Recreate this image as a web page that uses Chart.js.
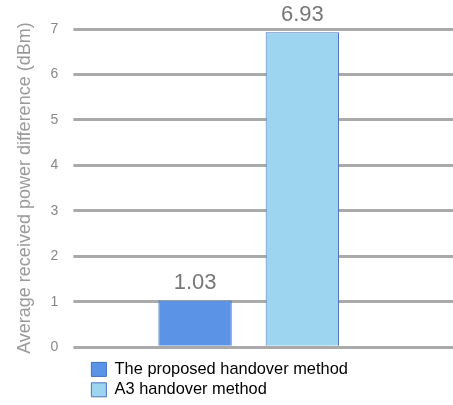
<!DOCTYPE html>
<html>
<head>
<meta charset="utf-8">
<script src="https://cdn.jsdelivr.net/npm/chart.js@4.4.1/dist/chart.umd.min.js"></script>
<style>
  html, body { margin: 0; padding: 0; background: #ffffff; }
  #wrap { width: 453px; height: 405px; }
</style>
</head>
<body>
<div id="wrap"><canvas id="chart"></canvas></div>
<script>
// Chart data
const categories = [''];
const seriesNames = ['The proposed handover method', 'A3 handover method'];
const proposedValues = [1.03];
const a3Values = [6.93];
const yTicks = [0, 1, 2, 3, 4, 5, 6, 7];

const FONT = '"Liberation Sans", Arial, sans-serif';

// Writes each bar's value above it
const valueLabels = {
  id: 'valueLabels',
  afterDatasetsDraw(chart) {
    const ctx = chart.ctx;
    ctx.save();
    ctx.font = '22px ' + FONT;
    ctx.fillStyle = '#777777';
    ctx.textAlign = 'center';
    ctx.textBaseline = 'alphabetic';
    chart.data.datasets.forEach((ds, i) => {
      chart.getDatasetMeta(i).data.forEach((bar, j) => {
        ctx.fillText(ds.data[j].toFixed(2), bar.x, bar.y - 11);
      });
    });
    ctx.restore();
  }
};

new Chart(document.getElementById('chart'), {
  type: 'bar',
  data: {
    labels: categories,
    datasets: [
      {
        label: seriesNames[0],
        data: proposedValues,
        backgroundColor: '#5b94e7',
        borderColor: '#3f6fbf',
        borderWidth: 1
      },
      {
        label: seriesNames[1],
        data: a3Values,
        backgroundColor: '#9dd4f0',
        borderColor: '#4d73b9',
        borderWidth: 1
      }
    ]
  },
  options: {
    responsive: true,
    maintainAspectRatio: false,
    animation: false,
    layout: { padding: { top: 29, bottom: -3, left: 14, right: 0 } },
    datasets: {
      bar: { categoryPercentage: 0.665, barPercentage: 0.684 }
    },
    plugins: {
      legend: {
        position: 'bottom',
        align: 'start',
        fullSize: false,
        labels: {
          font: { family: FONT, size: 16.4 },
          color: '#111111',
          boxWidth: 15,
          boxHeight: 14,
          padding: 4,
          generateLabels(chart) {
            return chart.data.datasets.map((ds, i) => ({
              text: ds.label,
              fillStyle: ds.backgroundColor,
              strokeStyle: ds.borderColor,
              lineWidth: 1,
              datasetIndex: i,
              hidden: false
            }));
          }
        }
      },
      tooltip: { enabled: false }
    },
    scales: {
      x: {
        display: true,
        grid: { display: true, drawOnChartArea: false, drawTicks: true, tickLength: 10, color: 'rgba(0,0,0,0)' },
        border: { display: false },
        ticks: { display: false }
      },
      y: {
        min: 0,
        max: 7,
        afterBuildTicks(scale) { scale.ticks = yTicks.map(v => ({ value: v })); },
        grid: { color: '#aaaaaa', lineWidth: 3, tickLength: 14, drawTicks: true },
        border: { display: false },
        ticks: {
          color: '#888888',
          font: { family: FONT, size: 14 },
          padding: 15
        },
        title: {
          display: true,
          text: 'Average received power difference (dBm)',
          color: '#9a9a9a',
          font: { family: FONT, size: 18 },
          padding: { top: 0, bottom: 0 }
        }
      },
      yRight: {
        position: 'right',
        min: 0,
        max: 7,
        afterBuildTicks(scale) { scale.ticks = yTicks.map(v => ({ value: v })); },
        grid: { color: '#aaaaaa', lineWidth: 3, tickLength: 43, drawOnChartArea: false, drawTicks: true },
        border: { display: false },
        ticks: { display: false }
      }
    }
  },
  plugins: [valueLabels]
});
</script>
</body>
</html>
